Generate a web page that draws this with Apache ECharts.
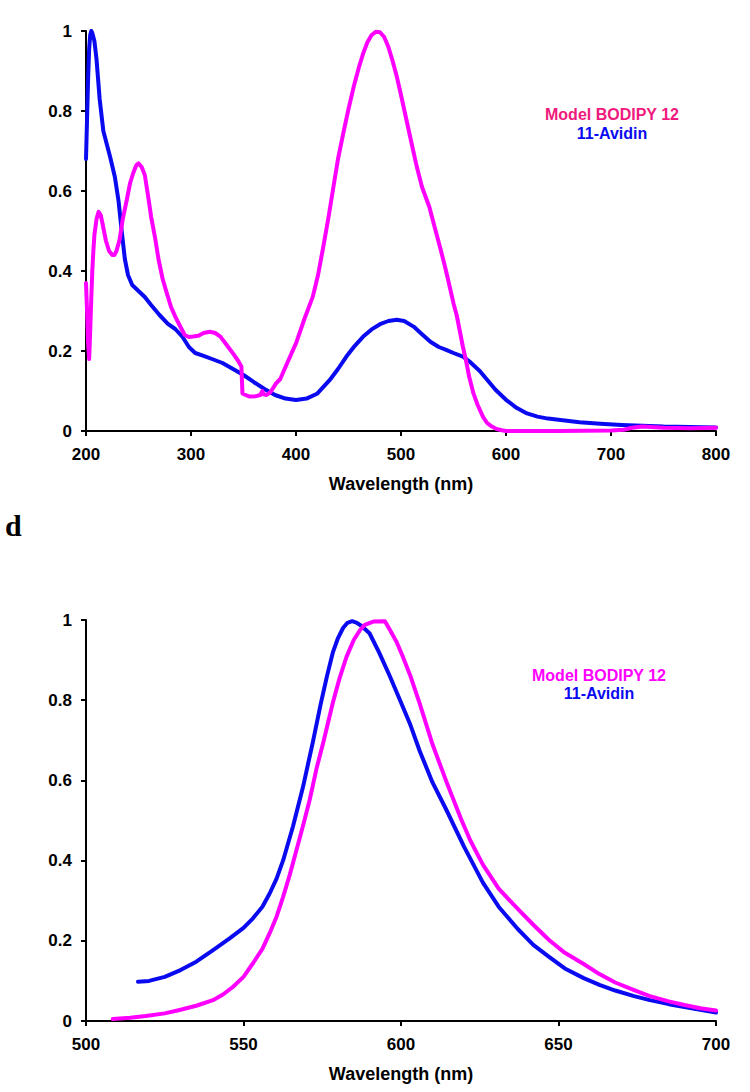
<!DOCTYPE html>
<html>
<head>
<meta charset="utf-8">
<script src="https://cdn.jsdelivr.net/npm/echarts@6/dist/echarts.min.js"></script>
<style>
html,body{margin:0;padding:0;background:#fff;}
#chart{width:750px;height:1092px;}
</style>
</head>
<body>
<div id="chart"></div>
<script>
// ---- Panel (top): absorbance spectra, [wavelength nm, normalized value]
const absAvidin = [[200,0.68],[201,0.78],[202,0.88],[203,0.955],[204,0.99],[205,1.0],[206,0.995],[208,0.975],[210,0.93],[213,0.83],[216.5,0.75],[220,0.715],[223,0.685],[227.5,0.635],[231,0.575],[234,0.50],[237,0.43],[240,0.39],[244,0.365],[250,0.35],[256,0.335],[262,0.315],[270,0.29],[278,0.268],[285,0.255],[292,0.235],[298,0.21],[304,0.195],[312,0.188],[320,0.18],[330,0.17],[340,0.155],[350,0.14],[360,0.122],[370,0.105],[380,0.09],[390,0.081],[400,0.0775],[410,0.081],[420,0.093],[432,0.127],[440,0.155],[448,0.186],[456,0.213],[464,0.236],[472,0.254],[480,0.267],[488,0.275],[496,0.278],[503,0.275],[512,0.261],[520,0.242],[528,0.223],[536,0.21],[543,0.203],[550,0.195],[559,0.186],[566,0.172],[575,0.15],[582,0.128],[590,0.103],[600,0.078],[610,0.058],[620,0.044],[630,0.036],[640,0.031],[650,0.028],[670,0.022],[690,0.018],[710,0.015],[730,0.013],[750,0.011],[775,0.010],[800,0.009]];
const absModel = [[200,0.37],[201,0.30],[202,0.22],[203,0.18],[204,0.25],[205,0.33],[206,0.40],[207,0.45],[208,0.49],[210,0.53],[212,0.548],[214,0.54],[216,0.515],[219,0.475],[222,0.45],[225,0.44],[227,0.44],[229,0.45],[232,0.478],[235,0.53],[239,0.58],[242,0.62],[245,0.645],[248,0.665],[250,0.669],[253,0.66],[256,0.64],[259,0.59],[262,0.536],[266,0.48],[269,0.43],[273,0.38],[277,0.344],[281,0.31],[285,0.286],[290,0.26],[294,0.24],[298,0.235],[302,0.236],[307,0.238],[312,0.245],[318,0.248],[323,0.245],[328,0.236],[334,0.215],[340,0.194],[345,0.175],[348,0.161],[349,0.094],[352,0.09],[356,0.086],[362,0.087],[366,0.09],[368,0.1],[369,0.092],[372,0.09],[376,0.098],[381,0.119],[385,0.13],[390,0.16],[395,0.19],[400,0.219],[408,0.28],[416,0.336],[421,0.39],[426,0.461],[431,0.535],[435,0.6],[440,0.68],[445,0.744],[450,0.805],[455,0.861],[460,0.91],[464,0.944],[468,0.972],[472,0.99],[476,0.998],[480,0.997],[484,0.985],[488,0.96],[492,0.925],[496,0.886],[500,0.84],[505,0.78],[510,0.72],[515,0.661],[520,0.61],[527,0.56],[532,0.51],[537,0.461],[542,0.41],[546,0.365],[550,0.319],[553,0.29],[556,0.25],[559,0.21],[562,0.175],[565,0.135],[569,0.094],[573,0.065],[578,0.036],[582,0.02],[586,0.012],[591,0.005],[596,0.002],[600,0],[650,0],[700,0.001],[712,0.003],[720,0.008],[730,0.011],[750,0.008],[775,0.007],[800,0.008]];

// ---- Panel d (bottom): emission spectra
const emAvidin = [[516.5,0.098],[520,0.1],[525,0.11],[530,0.127],[535,0.148],[540,0.175],[545.6,0.206],[550,0.232],[553,0.256],[556,0.285],[558.3,0.318],[560.5,0.355],[562.6,0.401],[565.7,0.485],[568.9,0.584],[572,0.695],[574.5,0.79],[576.5,0.86],[578.4,0.92],[580,0.955],[581.6,0.98],[583,0.993],[584.5,0.997],[586,0.993],[587.5,0.985],[590,0.967],[593,0.92],[596.5,0.859],[599.7,0.80],[603,0.738],[606,0.672],[610,0.595],[614.5,0.525],[620,0.435],[626,0.345],[631,0.285],[637,0.23],[642,0.19],[647,0.16],[652,0.131],[658,0.107],[663,0.09],[668,0.076],[674,0.062],[679,0.052],[685,0.042],[690,0.035],[695,0.028],[700,0.021]];
const emModel = [[508.5,0.005],[514,0.008],[519,0.0125],[525,0.019],[529.7,0.0275],[535,0.038],[540.3,0.052],[543.5,0.066],[546.7,0.0855],[550,0.11],[553,0.144],[556,0.18],[558.3,0.219],[560.5,0.26],[562.6,0.31],[564.7,0.365],[566.8,0.426],[569,0.49],[571,0.551],[573.2,0.63],[575.5,0.7],[578.4,0.795],[580.5,0.855],[582.7,0.908],[585,0.95],[587,0.975],[588.5,0.988],[591.2,0.996],[594.9,0.997],[596.5,0.975],[598.6,0.945],[600.5,0.91],[603,0.86],[606,0.79],[610,0.69],[614.5,0.595],[619,0.505],[622,0.45],[626,0.39],[631,0.33],[637,0.28],[642,0.24],[647,0.202],[652,0.17],[658,0.142],[663,0.117],[668,0.096],[674,0.077],[679,0.062],[685,0.049],[690,0.04],[695,0.032],[700,0.026]];

// Axis ranges / tick settings
const topXRange = [200, 800, 100];
const botXRange = [500, 700, 50];
const yRange = [0, 1, 0.2];
const xTitle = 'Wavelength (nm)';
const legendTop = ['Model BODIPY 12', '11-Avidin'];
const legendBot = ['Model BODIPY 12', '11-Avidin'];
const panelLabel = 'd';

const BLUE = '#0a0af0';
const MAGENTA = '#ff00ff';
const PINK = '#f0197d';
const FONT = "'Liberation Sans', Arial, sans-serif";

function xAxisCfg(gridIndex, r) {
  return {
    type: 'value', gridIndex: gridIndex, min: r[0], max: r[1], interval: r[2],
    name: xTitle, nameLocation: 'middle', nameGap: 44,
    nameTextStyle: {fontFamily: FONT, fontWeight: 'bold', fontSize: 18, color: '#000'},
    axisLine: {show: true, onZero: false, lineStyle: {color: '#000', width: 2}},
    axisTick: {show: true, inside: false, length: 5, lineStyle: {color: '#000', width: 2}},
    axisLabel: {fontFamily: FONT, fontWeight: 'bold', fontSize: 17, color: '#000', margin: 15},
    splitLine: {show: false}
  };
}
function yAxisCfg(gridIndex) {
  return {
    type: 'value', gridIndex: gridIndex, min: yRange[0], max: yRange[1], interval: yRange[2],
    axisLine: {show: true, onZero: false, lineStyle: {color: '#000', width: 2}},
    axisTick: {show: true, inside: false, length: 5, lineStyle: {color: '#000', width: 2}},
    axisLabel: {fontFamily: FONT, fontWeight: 'bold', fontSize: 17, color: '#000', margin: 14,
      formatter: function (v) { return String(+v.toFixed(1)); }},
    splitLine: {show: false}
  };
}
function lineSeries(xi, data, color) {
  return {
    type: 'line', xAxisIndex: xi, yAxisIndex: xi, data: data,
    showSymbol: false, smooth: false, silent: true, animation: false,
    lineStyle: {color: color, width: 4, join: 'round', cap: 'round'}, itemStyle: {color: color}
  };
}

const chart = echarts.init(document.getElementById('chart'), null, {renderer: 'svg'});
chart.setOption({
  backgroundColor: '#fff',
  animation: false,
  grid: [
    {left: 86, right: 34, top: 31, height: 400},
    {left: 86, right: 34, top: 620, height: 401}
  ],
  xAxis: [xAxisCfg(0, topXRange), xAxisCfg(1, botXRange)],
  yAxis: [yAxisCfg(0), yAxisCfg(1)],
  series: [
    lineSeries(0, absAvidin, BLUE),
    lineSeries(0, absModel, MAGENTA),
    lineSeries(1, emAvidin, BLUE),
    lineSeries(1, emModel, MAGENTA)
  ],
  graphic: [
    {type: 'text', left: 5, top: 510, style: {text: panelLabel, font: "bold 30px 'Liberation Serif', 'Times New Roman', serif", fill: '#000'}},
    {type: 'text', x: 612, y: 114, style: {text: legendTop[0], fill: PINK, font: "bold 16px " + FONT, textAlign: 'center', textVerticalAlign: 'middle'}},
    {type: 'text', x: 612, y: 133, style: {text: legendTop[1], fill: BLUE, font: "bold 16px " + FONT, textAlign: 'center', textVerticalAlign: 'middle'}},
    {type: 'text', x: 599, y: 675, style: {text: legendBot[0], fill: MAGENTA, font: "bold 16px " + FONT, textAlign: 'center', textVerticalAlign: 'middle'}},
    {type: 'text', x: 599, y: 693, style: {text: legendBot[1], fill: BLUE, font: "bold 16px " + FONT, textAlign: 'center', textVerticalAlign: 'middle'}}
  ]
});
</script>
</body>
</html>
